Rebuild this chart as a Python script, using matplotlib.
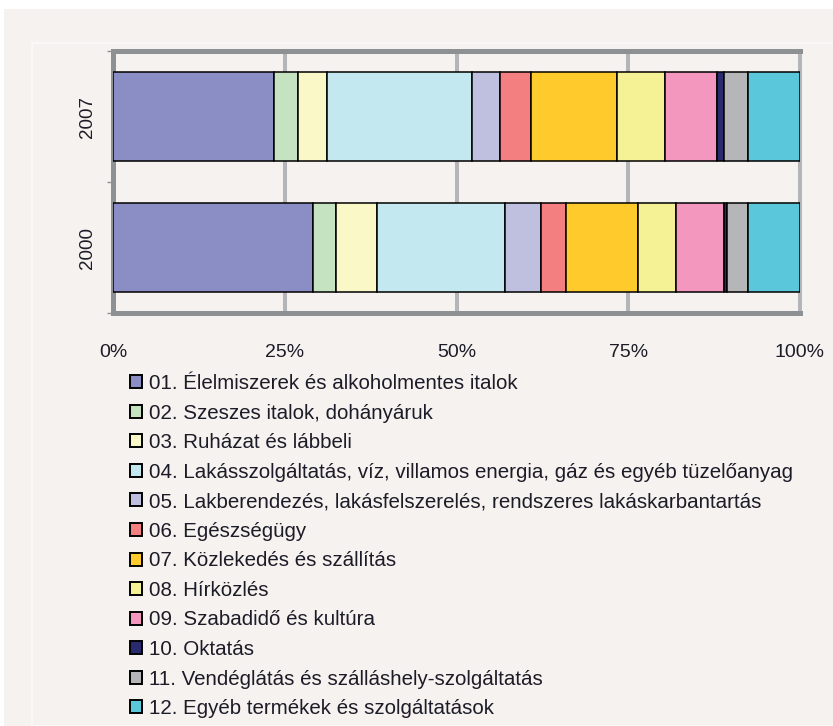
import matplotlib
matplotlib.use('Agg')
import matplotlib.pyplot as plt
from matplotlib.patches import Patch, Rectangle
import numpy as np

# expenditure structure by COICOP group, share of total (%)
years = ['2000', '2007']
categories = [
    '01. Élelmiszerek és alkoholmentes italok',
    '02. Szeszes italok, dohányáruk',
    '03. Ruházat és lábbeli',
    '04. Lakásszolgáltatás, víz, villamos energia, gáz és egyéb tüzelőanyag',
    '05. Lakberendezés, lakásfelszerelés, rendszeres lakáskarbantartás',
    '06. Egészségügy',
    '07. Közlekedés és szállítás',
    '08. Hírközlés',
    '09. Szabadidő és kultúra',
    '10. Oktatás',
    '11. Vendéglátás és szálláshely-szolgáltatás',
    '12. Egyéb termékek és szolgáltatások',
]
share_2000 = [29.1, 3.4, 5.9, 18.7, 5.2, 3.7, 10.4, 5.5, 7.1, 0.4, 3.0, 7.6]
share_2007 = [23.5, 3.5, 4.2, 21.1, 4.1, 4.5, 12.5, 6.9, 7.6, 1.0, 3.5, 7.6]
xticks = [0, 25, 50, 75, 100]
xticklabels = ['0%', '25%', '50%', '75%', '100%']

colors = ['#8b8ec4', '#c5e3c0', '#fbf8c8', '#c3e8ef', '#bfbfdf', '#f47f80',
          '#ffca2b', '#f5f195', '#f497bf', '#2a2a6e', '#b6b6b8', '#5ac8da']

plt.rcParams['font.family'] = ['Liberation Sans', 'DejaVu Sans']
txt = '#1c1c28'

bg = '#f6f2ef'
fig = plt.figure(figsize=(8.33, 7.26), dpi=100, facecolor='white')
W, H = 833, 726
# beige page background and inner panel outline
fig.patches.append(Rectangle((4 / W, 0), 1, 1 - 9 / H, transform=fig.transFigure,
                             facecolor=bg, edgecolor='none', zorder=-10))
fig.patches.append(Rectangle((32 / W, 0), 1, 1 - 43 / H, transform=fig.transFigure,
                             facecolor='none', edgecolor='#fbfaf8', lw=1.2, zorder=-9))

ax = fig.add_axes([113 / W, 1 - 313 / H, 687 / W, 262 / H])
ax.set_facecolor(bg)

data = np.array([share_2000, share_2007])
ypos = np.arange(len(years))
left = np.zeros(len(years))
for j in range(len(categories)):
    ax.barh(ypos, data[:, j], left=left, height=0.68, color=colors[j],
            edgecolor='black', linewidth=1.1, label=categories[j], zorder=3)
    left += data[:, j]

ax.set_xlim(0, 100)
ax.set_ylim(-0.5, 1.5)
ax.set_xticks(xticks)
ax.set_xticklabels(xticklabels, fontsize=14, color=txt)
ax.tick_params(axis='x', length=0, pad=22)
ax.grid(axis='x', color='#b4b5b8', linewidth=2.9, zorder=0)

ax.set_yticks([-0.5, 0.5, 1.5])
ax.set_yticklabels([])
ax.tick_params(axis='y', which='major', length=4, width=1, color='#8e9194')
ax.set_yticks(ypos, minor=True)
ax.set_yticklabels(years, minor=True, rotation=90, va='center', fontsize=13.5, color=txt)
ax.tick_params(axis='y', which='minor', length=0, pad=12)

for side in ['left', 'top', 'bottom']:
    ax.spines[side].set_color('#8e9194')
    ax.spines[side].set_linewidth(3.6)
ax.spines['right'].set_color('#b4b5b8')
ax.spines['right'].set_linewidth(2.9)

handles = [Patch(facecolor=c, edgecolor='black', linewidth=1.4) for c in colors]
leg = fig.legend(handles, categories, loc='upper left',
                 bbox_to_anchor=(130 / W, 1 - 374 / H), frameon=False,
                 fontsize=14.75, handlelength=0.6, handleheight=0.6,
                 handletextpad=0.35, labelspacing=0.515, borderpad=0, borderaxespad=0)
for t in leg.get_texts():
    t.set_color(txt)

fig.savefig('out.png', dpi=100, facecolor=fig.get_facecolor())
